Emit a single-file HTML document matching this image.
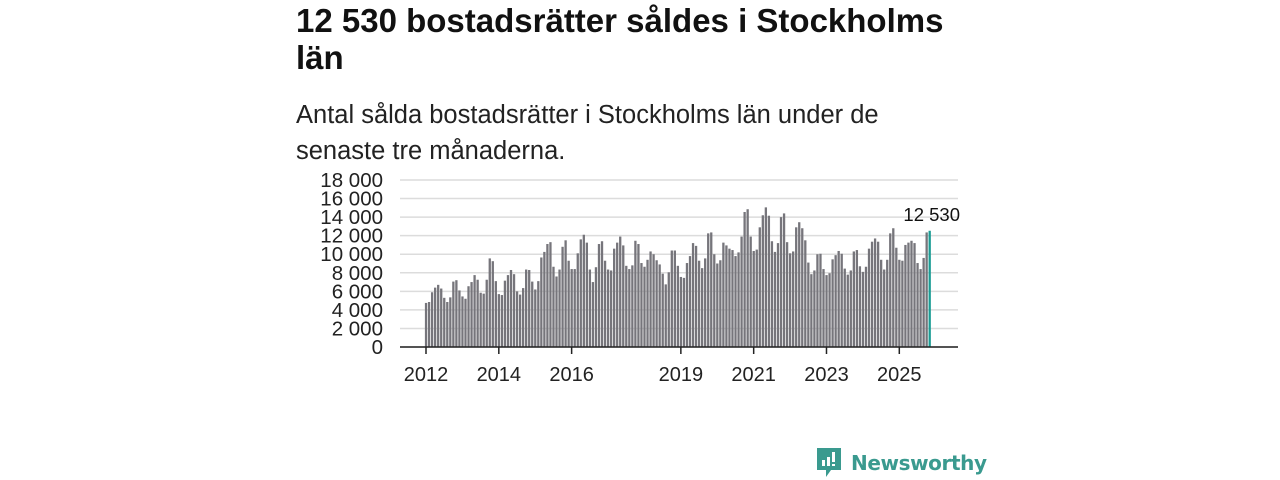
<!DOCTYPE html>
<html><head><meta charset="utf-8">
<style>
body{margin:0;width:1280px;height:480px;background:#fff;font-family:"Liberation Sans",sans-serif;overflow:hidden;position:relative;color:#111}
h1{position:absolute;left:296px;top:2px;margin:0;font-size:33px;line-height:37px;font-weight:bold;width:700px}
.sub{position:absolute;left:296px;top:97px;margin:0;font-size:25.5px;line-height:36px;width:625px;color:#222}
svg{position:absolute;left:0;top:0}
</style></head><body>
<h1>12 530 bostadsrätter såldes i Stockholms<br>län</h1>
<p class="sub">Antal sålda bostadsrätter i Stockholms län under de senaste tre månaderna.</p>
<svg id="chart" width="1280" height="480"></svg>
<div style="position:absolute;left:815px;top:446px;display:flex;align-items:center">
<svg width="28" height="34" style="position:static"><path d="M2 2h24v22H16l-5 7v-7H2z" fill="#3a9a8f"/><rect x="7" y="14" width="3" height="6" fill="#fff"/><rect x="12" y="11" width="3" height="9" fill="#fff"/><rect x="17" y="6" width="3" height="10" fill="#fff"/><rect x="17" y="18" width="3" height="2" fill="#fff"/></svg>
<span style="margin-left:8px;font-size:20px;font-weight:bold;color:#3a9a8f;font-family:'DejaVu Sans',sans-serif;letter-spacing:-0.4px">Newsworthy</span>
</div>
<script>
const values=[4.75,4.85,5.9,6.4,6.7,6.3,5.3,4.85,5.35,7.05,7.2,6.1,5.45,5.2,6.55,7.0,7.75,7.25,5.85,5.75,7.25,9.55,9.25,7.1,
5.7,5.6,7.15,7.75,8.3,7.85,6.0,5.65,6.35,8.35,8.3,7.05,6.2,7.1,9.65,10.25,11.1,11.3,8.65,7.6,8.35,10.8,11.5,9.3,
8.4,8.4,10.1,11.6,12.1,11.25,8.35,7.0,8.6,11.1,11.4,9.3,8.35,8.25,10.6,11.25,11.9,10.95,8.75,8.4,8.8,11.45,11.1,9.05,
8.65,9.4,10.3,10.0,9.35,8.9,7.9,6.75,8.05,10.4,10.4,8.75,7.55,7.45,9.05,9.8,11.2,10.9,9.3,8.5,9.55,12.25,12.35,10.0,
9.0,9.35,11.25,10.95,10.6,10.45,9.8,10.2,11.9,14.55,14.85,11.9,10.35,10.5,12.9,14.2,15.05,14.15,11.4,10.25,11.2,14.0,14.4,11.3,
10.1,10.3,12.9,13.45,12.8,11.5,9.1,7.85,8.25,10.0,10.05,8.4,7.75,7.95,9.45,9.9,10.35,10.05,8.45,7.8,8.25,10.3,10.45,8.7,
8.1,8.65,10.6,11.35,11.7,11.35,9.4,8.35,9.4,12.25,12.8,10.7,9.4,9.3,11.0,11.25,11.45,11.2,9.05,8.4,9.6,12.35,12.53];
const yTicks=[0,2,4,6,8,10,12,14,16,18];
const yTickLabels=["0","2 000","4 000","6 000","8 000","10 000","12 000","14 000","16 000","18 000"];
const xTickYears=[2012,2014,2016,2019,2021,2023,2025];
const lastLabel="12 530";
const NS="http://www.w3.org/2000/svg",svg=document.getElementById('chart');
const x0=426,step=3.034,yZero=347,pxPer=167/18;
const xs=i=>x0+i*step, ys=v=>yZero-v*pxPer;
function mk(t,a){const e=document.createElementNS(NS,t);for(const k in a)e.setAttribute(k,a[k]);svg.appendChild(e);return e;}
yTicks.forEach((t,i)=>{
 const g=mk('line',{x1:400,x2:958,y1:ys(t),y2:ys(t),stroke:'#dcdcdc','stroke-width':1.5});
 
 
 const l=mk('text',{x:383,y:ys(t)+7,'text-anchor':'end','font-size':20.5,fill:'#222','font-family':'Liberation Sans, sans-serif'});
 l.textContent=yTickLabels[i];
 
 
});
values.forEach((v,i)=>{
 const last=i===values.length-1;
 const b=mk('rect',{x:xs(i)-1.1,y:ys(v),width:2.3,height:v*pxPer,fill:last?'#1a9c94':'#76757b'});
 
 
});
const ax=mk('line',{x1:400,x2:958,y1:yZero,y2:yZero,stroke:'#222','stroke-width':1.5});


xTickYears.forEach(y=>{
 const xx=xs((y-2012)*12);
 const t=mk('line',{x1:xx,x2:xx,y1:yZero,y2:yZero+7,stroke:'#222','stroke-width':1.5});
 
 
 const l=mk('text',{x:xx,y:381,'text-anchor':'middle','font-size':20,fill:'#222','font-family':'Liberation Sans, sans-serif'});
 l.textContent=y;
 
 
});
const vl=mk('text',{x:960,y:221,'text-anchor':'end','font-size':18.5,fill:'#111','font-family':'Liberation Sans, sans-serif'});
vl.textContent=lastLabel;


</script>
</body></html>
